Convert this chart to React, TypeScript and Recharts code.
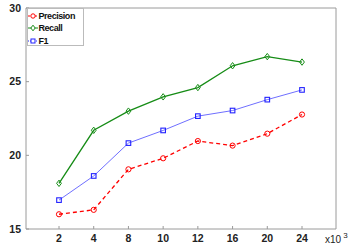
import { LineChart, Line, XAxis, YAxis } from 'recharts';

const sizes = ['2', '4', '8', '10', '12', '16', '20', '24'];
const precision = [16.0, 16.3, 19.05, 19.8, 20.97, 20.66, 21.47, 22.77];
const recall = [18.1, 21.7, 23.0, 23.97, 24.6, 26.08, 26.7, 26.33];
const f1 = [16.96, 18.6, 20.83, 21.69, 22.66, 23.04, 23.78, 24.44];
const yTicks = [15, 20, 25, 30];

const data = sizes.map((n, i) => ({
  n,
  precision: precision[i],
  recall: recall[i],
  f1: f1[i],
}));

const RED = '#ff0000';
const GREEN = '#168c16';
const BLUE = '#2222ff';
const AXIS = '#9a9a9a';
const FONT = 'Liberation Sans, Arial, sans-serif';

// marker shapes, drawn like matlab's open markers
const CircleDot = (props: any) => {
  const { cx, cy } = props;
  if (cx == null || cy == null) return null;
  return <circle cx={cx} cy={cy} r={2.6} fill="none" stroke={RED} strokeWidth={1} />;
};

const DiamondDot = (props: any) => {
  const { cx, cy } = props;
  if (cx == null || cy == null) return null;
  const s = 3.2;
  return (
    <path
      d={`M${cx},${cy - s} L${cx + s * 0.75},${cy} L${cx},${cy + s} L${cx - s * 0.75},${cy} Z`}
      fill="none"
      stroke={GREEN}
      strokeWidth={1}
    />
  );
};

const SquareDot = (props: any) => {
  const { cx, cy } = props;
  if (cx == null || cy == null) return null;
  return <rect x={cx - 2.3} y={cy - 2.3} width={4.6} height={4.6} fill="none" stroke={BLUE} strokeWidth={1.1} />;
};

const legendItems = [
  { label: 'Precision', color: RED, dash: '2 1.5', marker: 'o' },
  { label: 'Recall', color: GREEN, dash: undefined, marker: 'd' },
  { label: 'F1', color: BLUE, dash: '1 1', marker: 's' },
];

const LegendBox = () => (
  <div
    style={{
      position: 'absolute',
      left: 27,
      top: 8,
      border: '1px solid #bbb',
      background: '#fff',
      width: 55,
      height: 35,
      paddingTop: 1,
      fontFamily: FONT,
      fontWeight: 700,
      fontSize: 9,
      letterSpacing: -0.45,
      lineHeight: '12.3px',
      color: '#111',
    }}
  >
    {legendItems.map((it) => (
      <div key={it.label} style={{ display: 'flex', alignItems: 'center' }}>
        <svg width={10} height={10} style={{ marginRight: 0.5 }}>
          <line x1={0} y1={5} x2={10} y2={5} stroke={it.color} strokeWidth={1} strokeDasharray={it.dash} />
          {it.marker === 'o' && <circle cx={5} cy={5} r={2.2} fill="#fff" stroke={it.color} />}
          {it.marker === 'd' && <path d="M5,2.2 L7.2,5 L5,7.8 L2.8,5 Z" fill="#fff" stroke={it.color} />}
          {it.marker === 's' && <rect x={3} y={3} width={4} height={4} fill="#fff" stroke={it.color} />}
        </svg>
        <span>{it.label}</span>
      </div>
    ))}
  </div>
);

export default function App() {
  const tickStyle = { fontSize: 10.5, fontWeight: 700, fill: '#222', fontFamily: FONT };
  return (
    <div style={{ position: 'absolute', left: 0, top: 0, width: 349, height: 249, background: '#fff' }}>
      <LineChart width={349} height={249} data={data} margin={{ top: 7, right: 12, left: 0, bottom: 0 }}>
        <XAxis
          dataKey="n"
          height={20}
          padding={{ left: 33, right: 34 }}
          stroke={AXIS}
          tickSize={-3}
          tickMargin={9}
          tick={tickStyle}
          interval={0}
        />
        <XAxis
          xAxisId="top"
          dataKey="n"
          orientation="top"
          height={1}
          padding={{ left: 33, right: 34 }}
          stroke={AXIS}
          tickSize={-3}
          tick={false}
          interval={0}
        />
        <YAxis
          domain={[15, 30]}
          ticks={yTicks}
          width={26}
          stroke={AXIS}
          tickSize={-3}
          tickMargin={8}
          tick={tickStyle}
          allowDataOverflow
        />
        <YAxis
          yAxisId="right"
          orientation="right"
          domain={[15, 30]}
          ticks={yTicks}
          width={1}
          stroke={AXIS}
          tickSize={-3}
          tick={false}
        />
        <Line
          dataKey="precision"
          stroke={RED}
          strokeWidth={1.3}
          strokeDasharray="4 3"
          dot={<CircleDot />}
          isAnimationActive={false}
        />
        <Line
          dataKey="recall"
          stroke={GREEN}
          strokeWidth={1.3}
          dot={<DiamondDot />}
          isAnimationActive={false}
        />
        <Line
          dataKey="f1"
          stroke="#6f6fff"
          strokeWidth={1}
          dot={<SquareDot />}
          isAnimationActive={false}
        />
      </LineChart>
      <LegendBox />
      <div
        style={{
          position: 'absolute',
          left: 325,
          top: 234,
          fontFamily: FONT,
          fontSize: 10,
          lineHeight: '12px',
          color: '#222',
          whiteSpace: 'nowrap',
        }}
      >
        x10
        <span style={{ fontSize: 8, position: 'relative', top: -5, marginLeft: 2 }}>3</span>
      </div>
    </div>
  );
}
